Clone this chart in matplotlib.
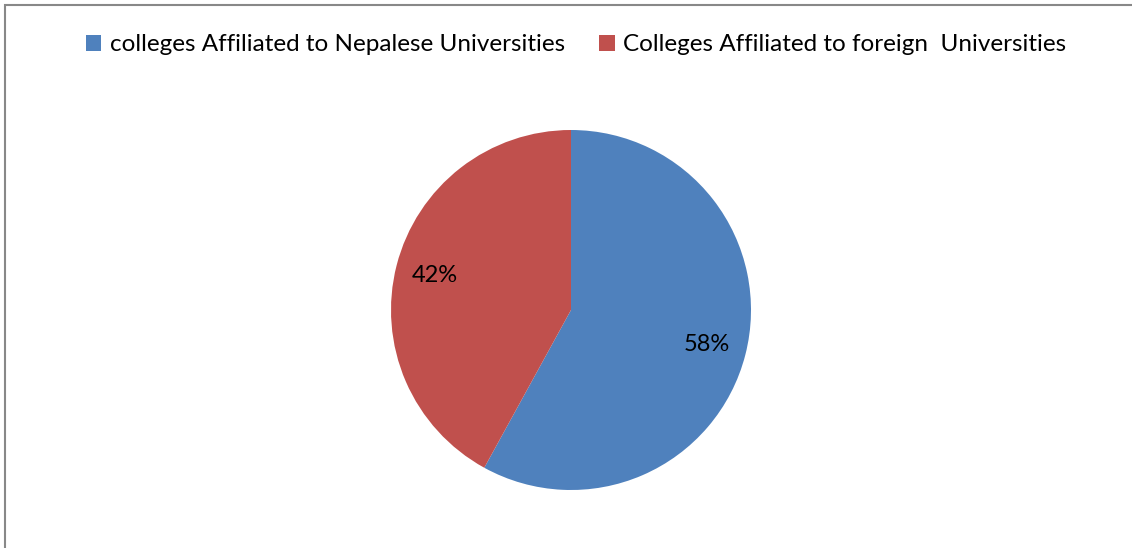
import matplotlib.pyplot as plt
from matplotlib.patches import Rectangle

labels = ["colleges Affiliated to Nepalese Universities",
          "Colleges Affiliated to foreign  Universities"]
shares = [58, 42]
colors = ["#4F81BD", "#C0504D"]

plt.rcParams["font.family"] = ["Lato", "DejaVu Sans"]

fig = plt.figure(figsize=(11.32, 5.48), dpi=100)
W, H = 1132, 548

# gray frame, only left and top edges are inside the picture
fig.patches.append(Rectangle((5 / W, -0.1), 1.2, (H - 5) / H + 0.1,
                             transform=fig.transFigure, fill=False,
                             edgecolor="#888888", linewidth=1.5))

r = 180
cx, cy = 571, H - 310
ax = fig.add_axes([(cx - r) / W, (cy - r) / H, 2 * r / W, 2 * r / H])
wedges, _, autotexts = ax.pie(shares, colors=colors, startangle=90,
                              counterclock=False, autopct="%d%%",
                              pctdistance=0.78,
                              textprops={"fontsize": 17, "color": "black"})
ax.set_xlim(-1, 1)
ax.set_ylim(-1, 1)
ax.set_aspect("equal")

fig.legend(wedges, labels, loc="center", bbox_to_anchor=(576 / W, 1 - 45 / H),
           ncol=2, frameon=False, fontsize=17.5, handlelength=0.65,
           handleheight=0.65, handletextpad=0.35, columnspacing=1.4)

fig.savefig("out.png", dpi=100)
